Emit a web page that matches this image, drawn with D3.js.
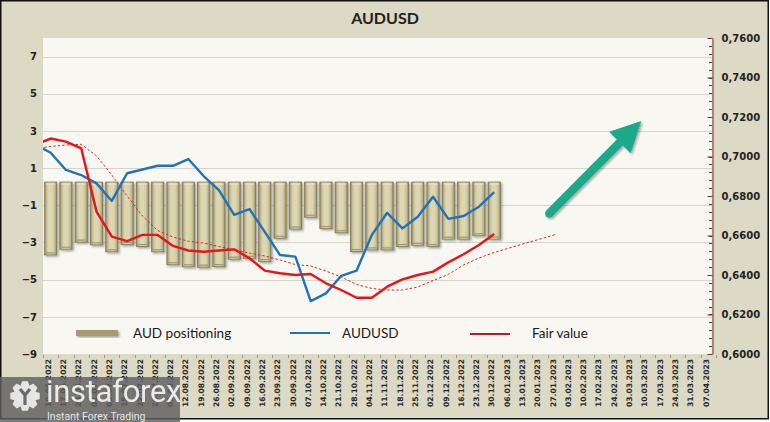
<!DOCTYPE html>
<html>
<head>
<meta charset="utf-8">
<script src="https://cdn.jsdelivr.net/npm/d3@7/dist/d3.min.js"></script>
<style>
  html, body { margin: 0; padding: 0; background: #ffffff; }
  svg { display: block; }
</style>
</head>
<body>
<svg id="chart" width="770" height="422"></svg>
<script>
// ---------- DATA ----------
const dates = ["10.06.2022","17.06.2022","24.06.2022","01.07.2022","08.07.2022","15.07.2022","22.07.2022","29.07.2022",
  "05.08.2022","12.08.2022","19.08.2022","26.08.2022","02.09.2022","09.09.2022","16.09.2022","23.09.2022","30.09.2022",
  "07.10.2022","14.10.2022","21.10.2022","28.10.2022","04.11.2022","11.11.2022","18.11.2022","25.11.2022","02.12.2022",
  "09.12.2022","16.12.2022","23.12.2022","30.12.2022","06.01.2023","13.01.2023","20.01.2023","27.01.2023","03.02.2023",
  "10.02.2023","17.02.2023","24.02.2023","03.03.2023","10.03.2023","17.03.2023","24.03.2023","31.03.2023","07.04.2023"];

// AUD positioning (left axis), bars hang from the axis crossing value
const positioning = [-3.67,-3.36,-2.98,-3.13,-3.50,-3.11,-3.22,-3.50,-4.20,-4.31,-4.33,-4.30,-3.90,-3.85,-4.03,
  -2.77,-2.28,-1.64,-2.25,-2.48,-3.49,-3.40,-3.40,-3.22,-3.15,-3.22,-2.82,-2.82,-2.64,-2.82];
const positioningCross = 0.25;

// AUDUSD (right axis)
const audusd = [0.7019,0.6932,0.6906,0.6864,0.6775,0.6915,0.6934,0.6953,0.6953,0.6987,0.6901,0.6830,0.6704,0.6734,
  0.6618,0.6501,0.6493,0.6268,0.6307,0.6396,0.6422,0.6603,0.6715,0.6636,0.6695,0.6796,0.6684,0.6699,0.6746,0.6819];

// Fair value (right axis)
const fairValue = [0.7091,0.7075,0.7041,0.6721,0.6594,0.6572,0.6603,0.6603,0.6547,0.6524,0.6518,0.6524,0.6530,0.6485,
  0.6422,0.6409,0.6400,0.6405,0.6358,0.6324,0.6285,0.6285,0.6341,0.6378,0.6400,0.6417,0.6464,0.6505,0.6552,0.6608];

// Fair value trend (dashed, right axis)
const fairTrend = [0.7051,0.7058,0.7062,0.7003,0.6906,0.6800,0.6699,0.6625,0.6592,0.6571,0.6562,0.6544,0.6529,0.6511,
  0.6496,0.6476,0.6453,0.6446,0.6420,0.6390,0.6352,0.6332,0.6324,0.6324,0.6339,0.6372,0.6403,0.6451,0.6486,0.6514,
  0.6537,0.6560,0.6582,0.6605];

// values of the week before the first label (03.06.2022), clipped at the plot's left edge
const prevWeek = {audusd: 0.7060, fairValue: 0.7060, fairTrend: 0.7040};

const leftTicks = [7,5,3,1,-1,-3,-5,-7,-9];
const rightTicks = [0.76,0.74,0.72,0.70,0.68,0.66,0.64,0.62,0.60];

// arrow annotation in data coordinates: [category position, right-axis value]
const arrowFrom = [32.6, 0.6712];
const arrowTo = [38.57, 0.7176];

// ---------- LAYOUT ----------
const svg = d3.select("#chart");
const W = 770, H = 422;
const plot = {left: 43, right: 712, top: 38, bottom: 354};

const x = d3.scaleBand().domain(dates).range([43, 716]).paddingInner(0.2).paddingOuter(0.1);
const xc = i => x(dates[0]) + x.bandwidth() / 2 + i * x.step();
const yL = d3.scaleLinear().domain([-9, 8]).range([plot.bottom, plot.top]);
const yR = d3.scaleLinear().domain([0.60, 0.76]).range([plot.bottom, plot.top]);

const defs = svg.append("defs");
const g1 = defs.append("linearGradient").attr("id", "barGrad").attr("x1", "0").attr("x2", "1").attr("y1", "0").attr("y2", "0");
[[0, "#8f885e"], [0.18, "#c9c298"], [0.35, "#ddd7b3"], [0.65, "#dbd5b0"], [0.85, "#c4bd92"], [1, "#8a8459"]]
  .forEach(([o, c]) => g1.append("stop").attr("offset", o).attr("stop-color", c));
const sh = defs.append("filter").attr("id", "shadow").attr("x", "-20%").attr("y", "-20%").attr("width", "150%").attr("height", "150%");
sh.append("feDropShadow").attr("dx", 1.5).attr("dy", 1.5).attr("stdDeviation", 1.2).attr("flood-color", "#000").attr("flood-opacity", 0.35);
defs.append("clipPath").attr("id", "plotClip").append("rect")
  .attr("x", plot.left).attr("y", plot.top).attr("width", plot.right - plot.left).attr("height", plot.bottom - plot.top);

// background
svg.append("rect").attr("x", 0).attr("y", 0).attr("width", W).attr("height", H).attr("fill", "#ffffff");
svg.append("rect").attr("x", 0).attr("y", 0).attr("width", 769).attr("height", 419).attr("fill", "#dcd9c5");
svg.append("rect").attr("x", plot.left).attr("y", plot.top).attr("width", plot.right - plot.left)
  .attr("height", plot.bottom - plot.top).attr("fill", "#f8f7f2");

// title
svg.append("text").attr("x", 385).attr("y", 24).attr("text-anchor", "middle")
  .attr("font-family", "Lato, 'Open Sans', sans-serif").attr("font-size", 16).attr("font-weight", 700)
  .attr("fill", "#222").text("AUDUSD");

// gridlines
svg.append("g").selectAll("line").data(leftTicks.filter(d => d > -9)).join("line")
  .attr("x1", plot.left).attr("x2", plot.right)
  .attr("y1", d => Math.round(yL(d)) + 0.5).attr("y2", d => Math.round(yL(d)) + 0.5)
  .attr("stroke", "#d6d4cc").attr("stroke-width", 1);

// left axis labels
const yAxisL = d3.axisLeft(yL).tickValues(leftTicks).tickSize(0).tickPadding(0).tickFormat(d3.format("d"));
const gL = svg.append("g").attr("transform", "translate(37,0)").call(yAxisL);
gL.select(".domain").remove();
gL.selectAll("text").attr("font-family", "'DejaVu Sans', Verdana, sans-serif").attr("font-size", 10)
  .attr("font-weight", "bold").attr("fill", "#222");

// right axis
const minorTicks = d3.range(0, 41).map(i => 0.60 + i * 0.004);
svg.append("g").selectAll("line").data(minorTicks).join("line")
  .attr("x1", plot.right - 3).attr("x2", plot.right)
  .attr("y1", d => Math.round(yR(d)) + 0.5).attr("y2", d => Math.round(yR(d)) + 0.5)
  .attr("stroke", "#7a2a22").attr("stroke-width", 1);
const yAxisR = d3.axisRight(yR).tickValues(rightTicks).tickSizeInner(-5).tickSizeOuter(0).tickPadding(9)
  .tickFormat(d => d3.format(".4f")(d).replace(".", ","));
const gR = svg.append("g").attr("transform", `translate(${plot.right + 0.5},0)`).call(yAxisR);
gR.select(".domain").attr("stroke", "#7a2a22");
gR.selectAll(".tick line").attr("stroke", "#7a2a22");
gR.selectAll("text").attr("font-family", "'DejaVu Sans', Verdana, sans-serif").attr("font-size", 10)
  .attr("font-weight", "bold").attr("fill", "#222");

// x axis ticks + labels
svg.append("g").selectAll("line").data(d3.range(dates.length + 1)).join("line")
  .attr("x1", i => Math.round(xc(i) - x.step() / 2) + 0.5).attr("x2", i => Math.round(xc(i) - x.step() / 2) + 0.5)
  .attr("y1", plot.bottom + 1).attr("y2", plot.bottom + 4)
  .attr("stroke", "#9c9a8c").attr("stroke-width", 1);
svg.append("g").selectAll("text").data(dates).join("text")
  .attr("transform", (d, i) => `translate(${xc(i) - 2.5},359) rotate(-90)`)
  .attr("text-anchor", "end").attr("dy", "0.35em")
  .attr("font-family", "'DejaVu Sans', Verdana, sans-serif").attr("font-size", 7.6).attr("font-weight", "bold")
  .attr("fill", "#2a2a2a").text(d => d);

// bars
const gBars = svg.append("g").attr("clip-path", "url(#plotClip)");
gBars.selectAll("rect").data(positioning).join("rect")
  .attr("x", (d, i) => x(dates[i]))
  .attr("y", yL(positioningCross))
  .attr("width", x.bandwidth())
  .attr("height", d => yL(d) - yL(positioningCross))
  .attr("fill", "url(#barGrad)").attr("stroke", "#7f7953").attr("stroke-width", 0.8)
  .attr("filter", "url(#shadow)");
gBars.selectAll("line.bev").data(positioning).join("line").attr("class", "bev")
  .attr("x1", (d, i) => x(dates[i]) + 1.5).attr("x2", (d, i) => x(dates[i]) + x.bandwidth() - 1.5)
  .attr("y1", d => yL(d) - 2).attr("y2", d => yL(d) - 2)
  .attr("stroke", "#9e9770").attr("stroke-width", 1.2);
gBars.selectAll("line.bevt").data(positioning).join("line").attr("class", "bevt")
  .attr("x1", (d, i) => x(dates[i]) + 1.5).attr("x2", (d, i) => x(dates[i]) + x.bandwidth() - 1.5)
  .attr("y1", yL(positioningCross) + 2).attr("y2", yL(positioningCross) + 2)
  .attr("stroke", "#eeead2").attr("stroke-width", 1);

// lines (index -1 = previous week, clipped by the plot area)
const line = d3.line().x(d => xc(d[0])).y(d => yR(d[1]));
const withPrev = (arr, p) => [[-1, p]].concat(arr.map((v, i) => [i, v]));
const gLines = svg.append("g").attr("clip-path", "url(#plotClip)");
gLines.append("path").datum(withPrev(fairTrend, prevWeek.fairTrend)).attr("d", line).attr("fill", "none")
  .attr("stroke", "#e0261c").attr("stroke-width", 1).attr("stroke-dasharray", "2.5,2");
gLines.append("path").datum(withPrev(audusd, prevWeek.audusd)).attr("d", line).attr("fill", "none")
  .attr("stroke", "#2272b8").attr("stroke-width", 2.4).attr("stroke-linejoin", "round");
gLines.append("path").datum(withPrev(fairValue, prevWeek.fairValue)).attr("d", line).attr("fill", "none")
  .attr("stroke", "#e8141b").attr("stroke-width", 2.4).attr("stroke-linejoin", "round");

// arrow
(function () {
  const x0 = xc(arrowFrom[0]), y0 = yR(arrowFrom[1]);
  const x1 = xc(arrowTo[0]), y1 = yR(arrowTo[1]);
  const dx = x1 - x0, dy = y1 - y0, len = Math.hypot(dx, dy);
  const ux = dx / len, uy = dy / len, px = -uy, py = ux;
  const headL = 29, headW = 14.5;
  const bx = x1 - ux * headL, by = y1 - uy * headL;
  const ga = svg.append("g").attr("filter", "url(#shadow)");
  ga.append("line").attr("x1", x0).attr("y1", y0).attr("x2", bx + ux * 2).attr("y2", by + uy * 2)
    .attr("stroke", "#1fa88a").attr("stroke-width", 8.5).attr("stroke-linecap", "round");
  ga.append("path").attr("d", `M${x1},${y1}L${bx + px * headW},${by + py * headW}L${bx - px * headW},${by - py * headW}Z`)
    .attr("fill", "#1fa88a").attr("stroke", "#1fa88a").attr("stroke-width", 1).attr("stroke-linejoin", "round");
})();

// legend
const lg = svg.append("g").attr("font-family", "Lato, 'Open Sans', sans-serif").attr("font-size", 13.5).attr("fill", "#1a1a1a");
lg.append("rect").attr("x", 76).attr("y", 330).attr("width", 42).attr("height", 6).attr("fill", "#a39d6e")
  .attr("filter", "url(#shadow)");
lg.append("text").attr("x", 133).attr("y", 338).text("AUD positioning");
lg.append("line").attr("x1", 290).attr("x2", 330).attr("y1", 333).attr("y2", 333).attr("stroke", "#2272b8").attr("stroke-width", 2);
lg.append("text").attr("x", 342).attr("y", 338).text("AUDUSD");
lg.append("line").attr("x1", 470).attr("x2", 510).attr("y1", 334).attr("y2", 334).attr("stroke", "#c8161c").attr("stroke-width", 2);
lg.append("text").attr("x", 532).attr("y", 338).text("Fair value");

// frame
svg.append("rect").attr("x", 0.75).attr("y", 0.75).attr("width", 767.5).attr("height", 418).attr("fill", "none")
  .attr("stroke", "#111").attr("stroke-width", 1.5);

// watermark
const wm = svg.append("g");
wm.append("rect").attr("x", 0).attr("y", 377).attr("width", 180).attr("height", 45).attr("fill", "#5f5f5f").attr("opacity", 0.82);
(function () {
  const cx = 25, cy = 396, teeth = 8, rO = 15, rI = 11.5;
  let pts = [];
  for (let k = 0; k < teeth; k++) {
    const a = (k / teeth) * 2 * Math.PI;
    const s = Math.PI / teeth;
    [[a - s * 0.95, rI], [a - s * 0.5, rO], [a + s * 0.5, rO], [a + s * 0.95, rI]]
      .forEach(([ang, r]) => pts.push([cx + r * Math.cos(ang), cy + r * Math.sin(ang)]));
  }
  wm.append("path").attr("d", "M" + pts.map(p => p.join(",")).join("L") + "Z").attr("fill", "#f2f2f2").attr("opacity", 0.9);
  wm.append("path").attr("d", `M${cx - 5},${cy - 7}L${cx},${cy - 1}L${cx + 5},${cy - 7}M${cx},${cy - 1}L${cx},${cy + 9}`)
    .attr("stroke", "#6a6a6a").attr("stroke-width", 3.2).attr("fill", "none");
})();
wm.append("text").attr("x", 46).attr("y", 402).attr("font-family", "Roboto, 'Open Sans', sans-serif")
  .attr("font-size", 31).attr("fill", "#f4f4f4").attr("opacity", 0.92).attr("letter-spacing", -0.3).text("instaforex");
wm.append("text").attr("x", 47).attr("y", 420).attr("font-family", "Roboto, 'Open Sans', sans-serif")
  .attr("font-size", 10.5).attr("fill", "#e6e6e6").text("Instant Forex Trading");
</script>
</body>
</html>
